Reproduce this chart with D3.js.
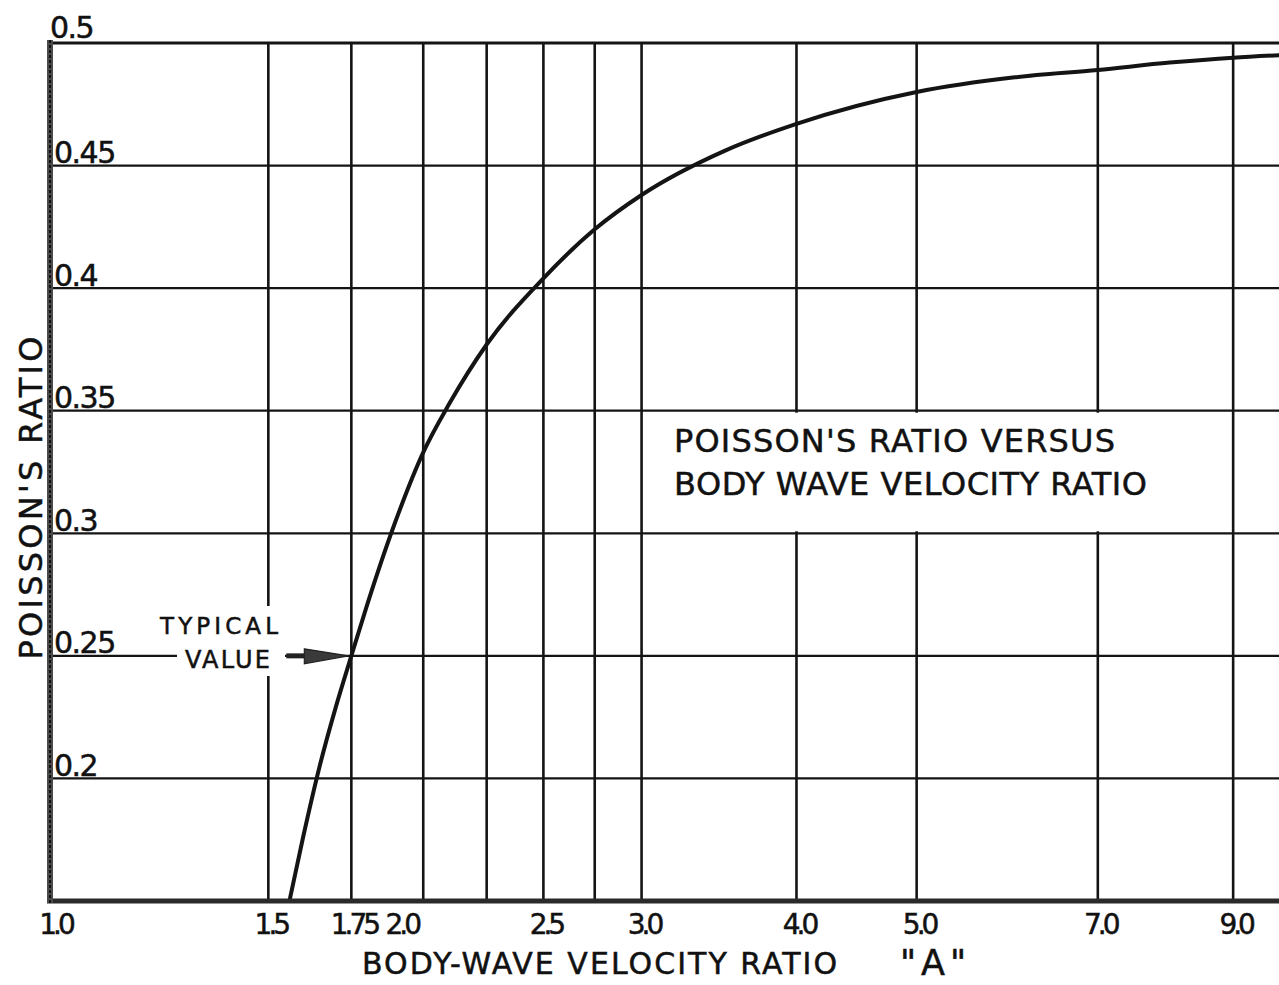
<!DOCTYPE html>
<html><head><meta charset="utf-8">
<script src="https://cdn.jsdelivr.net/npm/d3@7"></script>
<style>
body{margin:0;background:#fff}
text{font-family:"DejaVu Sans",sans-serif;fill:#111;stroke:#111;stroke-width:0.5px}
</style>
</head><body>
<svg id="chart" width="1279" height="985"></svg>
<script>
// ---- data ----
const velocityRatio = [1.56, 1.6, 1.65, 1.7, 1.75, 1.8, 1.9, 2.0, 2.1, 2.25, 2.5, 2.75, 3.0, 3.5, 4.0, 5.0, 6.0, 7.0, 8.0, 9.0, 9.8];
const poissonRatio  = [0.150, 0.176, 0.205, 0.229, 0.250, 0.270, 0.305, 0.333, 0.353, 0.377, 0.404, 0.424, 0.438, 0.456, 0.467, 0.480, 0.486, 0.489, 0.492, 0.494, 0.495];
const xTickValues = [1.0, 1.5, 1.75, 2.0, 2.5, 3.0, 4.0, 5.0, 7.0, 9.0];
const xTickLabels = ["1.0", "1.5", "1.75", "2.0", "2.5", "3.0", "4.0", "5.0", "7.0", "9.0"];
const xExtraGrid  = [2.25, 2.75];
const yTickValues = [0.2, 0.25, 0.3, 0.35, 0.4, 0.45, 0.5];
const yTickLabels = ["0.2", "0.25", "0.3", "0.35", "0.4", "0.45", "0.5"];
const typicalPoint = [1.75, 0.25];

const svg = d3.select("#chart");
const W = 1279, H = 985;
svg.append("rect").attr("width", W).attr("height", H).attr("fill", "#fff");

const x = d3.scaleLog().domain([1, 9.8]).range([50, 1279]);
const y = d3.scaleLinear().domain([0.15, 0.5]).range([901, 43]);
const ink = "#141414";

// vertical grid lines
const vGrid = xTickValues.filter(v => v > 1).concat(xExtraGrid);
svg.append("g").selectAll("line").data(vGrid).join("line")
  .attr("x1", d => x(d)).attr("x2", d => x(d))
  .attr("y1", y(0.5)).attr("y2", y(0.15))
  .attr("stroke", ink).attr("stroke-width", 2.6);

// horizontal grid lines
svg.append("g").selectAll("line").data(yTickValues.filter(v => v < 0.5)).join("line")
  .attr("x1", x(1)).attr("x2", W)
  .attr("y1", d => y(d)).attr("y2", d => y(d))
  .attr("stroke", ink).attr("stroke-width", 2.2);

// top border
svg.append("line").attr("x1", x(1)).attr("x2", W)
  .attr("y1", y(0.5)).attr("y2", y(0.5))
  .attr("stroke", ink).attr("stroke-width", 3);

// white box behind the title
svg.append("rect")
  .attr("x", x(3.0) + 2).attr("y", y(0.35) + 2)
  .attr("width", 1170 - x(3.0) - 2).attr("height", y(0.3) - y(0.35) - 4)
  .attr("fill", "#fff");

// white box behind the "TYPICAL VALUE" annotation
svg.append("rect")
  .attr("x", 177).attr("y", 606)
  .attr("width", 108).attr("height", 70)
  .attr("fill", "#fff");

// the curve
const line = d3.line()
  .x((d, i) => x(velocityRatio[i]))
  .y((d, i) => y(poissonRatio[i]))
  .curve(d3.curveMonotoneX);
svg.append("path").datum(poissonRatio)
  .attr("d", line)
  .attr("fill", "none").attr("stroke", ink).attr("stroke-width", 4)
  .attr("stroke-linecap", "round");

// axes lines
svg.append("line").attr("x1", x(1) - 3).attr("x2", W)
  .attr("y1", y(0.15)).attr("y2", y(0.15))
  .attr("stroke", "#2a2a2a").attr("stroke-width", 5);
svg.append("line").attr("x1", x(1)).attr("x2", x(1))
  .attr("y1", y(0.5) - 3).attr("y2", y(0.15) + 2)
  .attr("stroke", "#4a4a4a").attr("stroke-width", 6);
svg.append("line").attr("x1", x(1)).attr("x2", x(1))
  .attr("y1", y(0.5) - 3).attr("y2", y(0.15) + 2)
  .attr("stroke", "#111").attr("stroke-width", 2).attr("stroke-dasharray", "3 2");

// x axis tick labels via d3 axis
const xAxis = d3.axisBottom(x).tickValues(xTickValues)
  .tickFormat((d, i) => xTickLabels[i]).tickSize(0).tickPadding(0);
const gx = svg.append("g").attr("transform", `translate(0,${y(0.15)})`).call(xAxis);
gx.select(".domain").remove();
gx.selectAll("text")
  .attr("y", 33).attr("dy", 0)
  .attr("dx", d => d === 2.0 ? -22 : (d === 1.0 ? 5 : 2))
  .style("font-family", "'DejaVu Sans', sans-serif")
  .style("font-size", "28px").style("letter-spacing", "-4px")
  .attr("fill", ink);

// y axis tick labels via d3 axis (inside the plot, above each line)
const yAxis = d3.axisRight(y).tickValues(yTickValues)
  .tickFormat((d, i) => yTickLabels[i]).tickSize(0).tickPadding(0);
const gy = svg.append("g").attr("transform", `translate(${x(1) + 4},0)`).call(yAxis);
gy.select(".domain").remove();
gy.selectAll("text")
  .attr("x", 0).attr("dy", -3)
  .style("dominant-baseline", "auto")
  .style("font-family", "'DejaVu Sans', sans-serif")
  .style("font-size", "30px").style("letter-spacing", "-1.5px")
  .attr("fill", ink);
gy.selectAll("text").filter(d => d === 0.5).attr("x", -4).attr("dy", -6);

// axis titles
svg.append("text")
  .attr("x", 362).attr("y", 974)
  .attr("textLength", 475).attr("lengthAdjust", "spacing")
  .style("font-size", "30px")
  .text("BODY-WAVE  VELOCITY RATIO");
svg.append("text")
  .attr("x", 900).attr("y", 975)
  .attr("textLength", 66).attr("lengthAdjust", "spacing")
  .style("font-size", "35px")
  .text("\"A\"");
svg.append("text")
  .attr("transform", "translate(42,498) rotate(-90)")
  .attr("text-anchor", "middle")
  .attr("textLength", 323).attr("lengthAdjust", "spacing")
  .style("font-size", "32px")
  .text("POISSON'S RATIO");

// chart title inside the plot
svg.append("text")
  .attr("x", 674).attr("y", 452)
  .attr("textLength", 441).attr("lengthAdjust", "spacing")
  .style("font-size", "32px")
  .text("POISSON'S RATIO  VERSUS");
svg.append("text")
  .attr("x", 674).attr("y", 495)
  .attr("textLength", 473).attr("lengthAdjust", "spacing")
  .style("font-size", "32px")
  .text("BODY WAVE VELOCITY RATIO");

// annotation
svg.append("text")
  .attr("x", 160).attr("y", 634)
  .attr("textLength", 118).attr("lengthAdjust", "spacing")
  .style("font-size", "23px")
  .text("TYPICAL");
svg.append("text")
  .attr("x", 185).attr("y", 668)
  .attr("textLength", 85).attr("lengthAdjust", "spacing")
  .style("font-size", "24px")
  .text("VALUE");

// arrow pointing at the typical value
const tx = x(typicalPoint[0]) - 3, ty = y(typicalPoint[1]);
svg.append("path")
  .attr("d", `M${tx - 62},${ty - 2.5} L${tx - 40},${ty - 2.5} L${tx - 40},${ty + 2.5} L${tx - 62},${ty + 2.5} Z`)
  .attr("fill", "#222");
svg.append("path")
  .attr("d", `M${tx - 44},${ty - 7} L${tx},${ty} L${tx - 44},${ty + 8} Z`)
  .attr("fill", "#3a3a3a").attr("stroke", "#222").attr("stroke-width", 1.2);
</script>
</body></html>
